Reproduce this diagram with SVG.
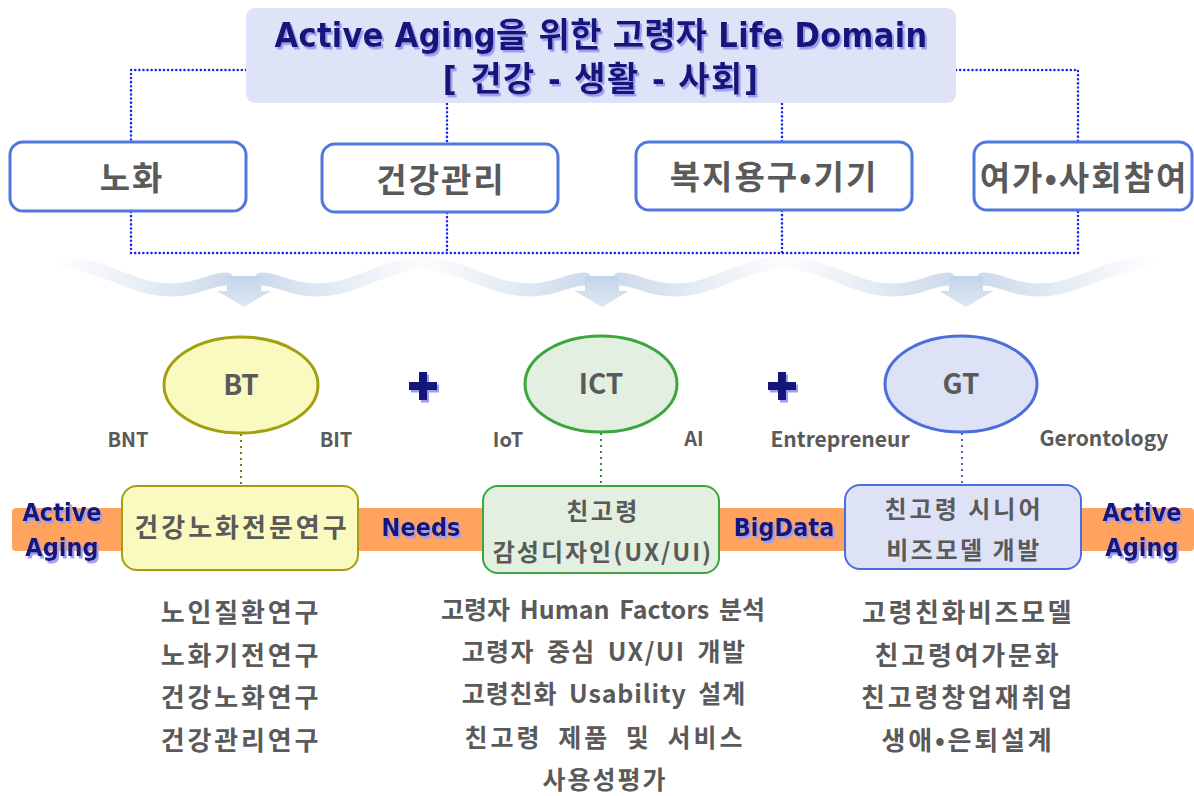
<svg xmlns="http://www.w3.org/2000/svg" width="1194" height="796" viewBox="0 0 1194 796">
<style>
.dot{fill:none;stroke:#1a26f0;stroke-width:2.5;stroke-dasharray:0.1 4;stroke-linecap:round}
.nav{font-family:"DejaVu Sans Condensed","DejaVu Sans","Noto Sans CJK KR",sans-serif;font-weight:bold;fill:#12127a;filter:url(#sh);text-anchor:middle}
.gr{font-family:"Noto Sans CJK KR","Noto Sans",sans-serif;font-weight:bold;fill:#5a5a5a;text-anchor:middle}
.topbox{fill:#fff;stroke:#4f77de;stroke-width:3}
.band{fill:none;stroke:url(#bandg);stroke-width:13;stroke-linecap:round}
.arr{fill:url(#arrg)}
</style>
<defs>
<filter id="sh" x="-10%" y="-10%" width="130%" height="140%"><feDropShadow dx="2" dy="2.5" stdDeviation="0.4" flood-color="#9c9cf0"/></filter>
<linearGradient id="bandg" x1="0" y1="0" x2="1" y2="0">
<stop offset="0" stop-color="#dbe5f1" stop-opacity="0"/>
<stop offset="0.3" stop-color="#d6e1ef" stop-opacity="0.8"/>
<stop offset="0.5" stop-color="#c8d7ea"/>
<stop offset="0.7" stop-color="#d6e1ef" stop-opacity="0.8"/>
<stop offset="1" stop-color="#dbe5f1" stop-opacity="0"/>
</linearGradient>
<linearGradient id="arrg" x1="0" y1="0" x2="0" y2="1">
<stop offset="0" stop-color="#c4d4e8"/>
<stop offset="1" stop-color="#dfe8f3"/>
</linearGradient>
<g id="wave">
<path class="band" d="M-190,262 C-140,262 -115,290 -72,290 C-45,290 -35,279 -17,279 M17,279 C35,279 45,290 72,290 C115,290 140,262 190,262"/>
<polygon class="arr" points="-17,276 17,276 17,291 27,291 0,307 -27,291 -17,291"/>
</g>
</defs>
<rect width="1194" height="796" fill="#fff"/>

<g id="connectors">
<path class="dot" d="M246,70 H131 V142 M956,70 H1078 V142 M447,104 V143 M782,104 V142"/>
<path class="dot" d="M131,212 V253 H1078 V211 M447,213 V253 M782,211 V253"/>
<path d="M241,434 V486" fill="none" stroke="#7a7a10" stroke-width="2" stroke-dasharray="2 4"/>
<path d="M601,433 V486" fill="none" stroke="#3a8a3a" stroke-width="2" stroke-dasharray="2 4"/>
<path d="M962,433 V485" fill="none" stroke="#4a63c8" stroke-width="2" stroke-dasharray="2 4"/>
</g>

<g id="title">
<rect x="246" y="8" width="710" height="95" rx="9" fill="#dfe3f8"/>
<text class="nav" x="601" y="47" font-size="34" letter-spacing="0.3">Active Aging을 위한 고령자 Life Domain</text>
<text class="nav" x="601" y="91" font-size="34" letter-spacing="1.5">[ 건강 - 생활 - 사회]</text>
</g>

<g id="node-aging">
<rect class="topbox" x="10" y="142" width="236" height="69" rx="13"/>
<text class="gr" x="132" y="190" font-size="33" letter-spacing="2">노화</text>
</g>
<g id="node-health">
<rect class="topbox" x="322" y="144" width="236" height="68" rx="13"/>
<text class="gr" x="441" y="192" font-size="33" letter-spacing="2">건강관리</text>
</g>
<g id="node-welfare">
<rect class="topbox" x="636" y="142" width="276" height="68" rx="13"/>
<text class="gr" x="774" y="189" font-size="33" letter-spacing="2">복지용구•기기</text>
</g>
<g id="node-leisure">
<rect class="topbox" x="974" y="142" width="218" height="68" rx="13"/>
<text class="gr" x="1084" y="190" font-size="33" letter-spacing="2">여가•사회참여</text>
</g>

<g id="waves">
<use href="#wave" x="244" y="0"/>
<use href="#wave" x="602" y="0"/>
<use href="#wave" x="966" y="0"/>
</g>

<g id="node-bt">
<ellipse cx="241" cy="385" rx="77" ry="48" fill="#fafac0" stroke="#a3a010" stroke-width="3"/>
<text class="gr" x="241" y="395" font-size="28">BT</text>
</g>
<g id="node-ict">
<ellipse cx="601" cy="384" rx="76" ry="48" fill="#e3f0e1" stroke="#3ca63c" stroke-width="3"/>
<text class="gr" x="601" y="394" font-size="28">ICT</text>
</g>
<g id="node-gt">
<ellipse cx="961" cy="384" rx="76" ry="48" fill="#dee2f7" stroke="#4a6fdc" stroke-width="3"/>
<text class="gr" x="961" y="394" font-size="28">GT</text>
</g>

<g id="plus1" filter="url(#sh)">
<path d="M419,372 h8 v10 h10 v8 h-10 v10 h-8 v-10 h-10 v-8 h10 z" fill="#12127a"/>
</g>
<g id="plus2" filter="url(#sh)">
<path d="M778,372 h8 v10 h10 v8 h-10 v10 h-8 v-10 h-10 v-8 h10 z" fill="#12127a"/>
</g>

<g id="labels">
<text class="gr" x="128" y="447" font-size="20">BNT</text>
<text class="gr" x="336" y="447" font-size="20">BIT</text>
<text class="gr" x="508" y="447" font-size="20">IoT</text>
<text class="gr" x="694" y="446" font-size="20">AI</text>
<text class="gr" x="840" y="447" font-size="21">Entrepreneur</text>
<text class="gr" x="1104" y="446" font-size="21">Gerontology</text>
</g>

<g id="band">
<rect x="12" y="508" width="1182" height="43" rx="4" fill="#ffa35f"/>
<text class="nav" x="62" y="521" font-size="25">Active</text>
<text class="nav" x="62" y="556" font-size="25">Aging</text>
<text class="nav" x="421" y="536" font-size="25">Needs</text>
<text class="nav" x="784" y="536" font-size="25">BigData</text>
<text class="nav" x="1142" y="521" font-size="25">Active</text>
<text class="nav" x="1142" y="556" font-size="25">Aging</text>
</g>

<g id="node-research">
<rect x="122" y="486" width="236" height="84" rx="15" fill="#fafac0" stroke="#a3a010" stroke-width="2"/>
<text class="gr" x="242" y="537" font-size="26" letter-spacing="3">건강노화전문연구</text>
</g>
<g id="node-design">
<rect x="483" y="486" width="236" height="87" rx="15" fill="#e3f0e1" stroke="#3ca63c" stroke-width="2"/>
<text class="gr" x="603" y="520" font-size="24" letter-spacing="2.5">친고령</text>
<text class="gr" x="603" y="561" font-size="24" letter-spacing="2">감성디자인(UX/UI)</text>
</g>
<g id="node-business">
<rect x="845" y="485" width="236" height="84" rx="15" fill="#dee2f7" stroke="#4a6fdc" stroke-width="2"/>
<text class="gr" x="964" y="518" font-size="24" letter-spacing="3">친고령 시니어</text>
<text class="gr" x="964" y="559" font-size="24" letter-spacing="2.5">비즈모델 개발</text>
</g>

<g id="list-bt">
<text class="gr" x="241" y="622" font-size="26" letter-spacing="2.8">노인질환연구</text>
<text class="gr" x="241" y="665" font-size="26" letter-spacing="2.8">노화기전연구</text>
<text class="gr" x="241" y="707" font-size="26" letter-spacing="2.8">건강노화연구</text>
<text class="gr" x="241" y="750" font-size="26" letter-spacing="2.8">건강관리연구</text>
</g>
<g id="list-ict">
<text class="gr" x="603" y="619" font-size="25" word-spacing="4">고령자 Human Factors 분석</text>
<text class="gr" x="604" y="661" font-size="25" letter-spacing="1.4" word-spacing="5">고령자 중심 UX/UI 개발</text>
<text class="gr" x="604" y="703" font-size="25" letter-spacing="0.9" word-spacing="5">고령친화 Usability 설계</text>
<text class="gr" x="605" y="747" font-size="25" letter-spacing="3" word-spacing="7">친고령 제품 및 서비스</text>
<text class="gr" x="605" y="789" font-size="25" letter-spacing="2">사용성평가</text>
</g>
<g id="list-gt">
<text class="gr" x="968" y="622" font-size="26" letter-spacing="2.6">고령친화비즈모델</text>
<text class="gr" x="968" y="665" font-size="26" letter-spacing="2.8">친고령여가문화</text>
<text class="gr" x="968" y="707" font-size="26" letter-spacing="2.8">친고령창업재취업</text>
<text class="gr" x="968" y="750" font-size="26" letter-spacing="2.8">생애•은퇴설계</text>
</g>
</svg>
